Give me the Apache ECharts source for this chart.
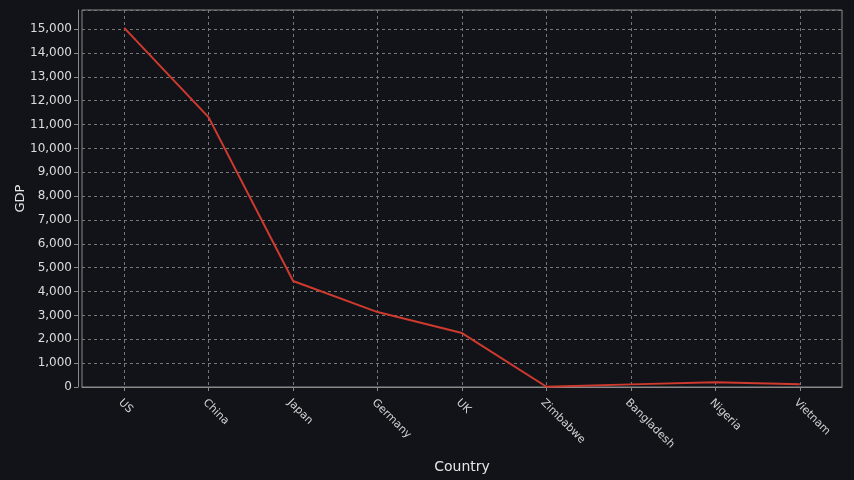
<!DOCTYPE html>
<html><head><meta charset="utf-8">
<script src="https://cdn.jsdelivr.net/npm/echarts@6/dist/echarts.min.js"></script>
<style>html,body{margin:0;padding:0;background:#121319;}#c{width:854px;height:480px;}</style>
</head><body><div id="c"></div>
<script>
const countries = ["US","China","Japan","Germany","UK","Zimbabwe","Bangladesh","Nigeria","Vietnam"];
const gdp = [15050, 11300, 4440, 3140, 2260, 10, 110, 200, 120];

const chart = echarts.init(document.getElementById('c'));
chart.setOption({
  backgroundColor: '#121319',
  animation: false,
  grid: {left: 82, right: 12, top: 10, bottom: 93, show: true, borderColor: '#8a8a8a', borderWidth: 1,
    containLabel: false, outerBoundsMode: 'none'},
  xAxis: {
    type: 'category', data: countries, boundaryGap: true, offset: 4,
    name: 'Country', nameLocation: 'middle', nameGap: 69,
    nameTextStyle: {color: '#e6e6e6', fontSize: 14, fontFamily: 'DejaVu Sans'},
    axisLine: {show: true, lineStyle: {color: '#8a8a8a'}},
    axisTick: {show: true, alignWithLabel: true, length: 4, lineStyle: {color: '#8a8a8a'}},
    axisLabel: {color: '#cfcfcf', fontSize: 11, rotate: -45, margin: 6, align: 'left', verticalAlign: 'top', fontFamily: 'DejaVu Sans'},
    splitLine: {show: true, alignWithLabel: true, lineStyle: {color: '#777', type: [3, 3], width: 1}}
  },
  yAxis: {
    type: 'value', min: 0, max: 15800, interval: 1000, offset: 4,
    name: 'GDP', nameLocation: 'middle', nameGap: 51, nameMoveOverlap: false,
    nameTextStyle: {color: '#e6e6e6', fontSize: 13, fontFamily: 'DejaVu Sans'},
    axisLine: {show: true, lineStyle: {color: '#8a8a8a'}},
    axisTick: {show: true, length: 4, lineStyle: {color: '#8a8a8a'}},
    axisLabel: {color: '#dcdcdc', fontSize: 12, margin: 6, fontFamily: 'DejaVu Sans', showMaxLabel: false,
      formatter: v => v.toLocaleString('en-US')},
    splitLine: {show: true, lineStyle: {color: '#777', type: [3, 3], width: 1}}
  },
  series: [{
    type: 'line', data: gdp, symbol: 'none',
    lineStyle: {color: '#cf3a2e', width: 2}
  }]
});
</script></body></html>
